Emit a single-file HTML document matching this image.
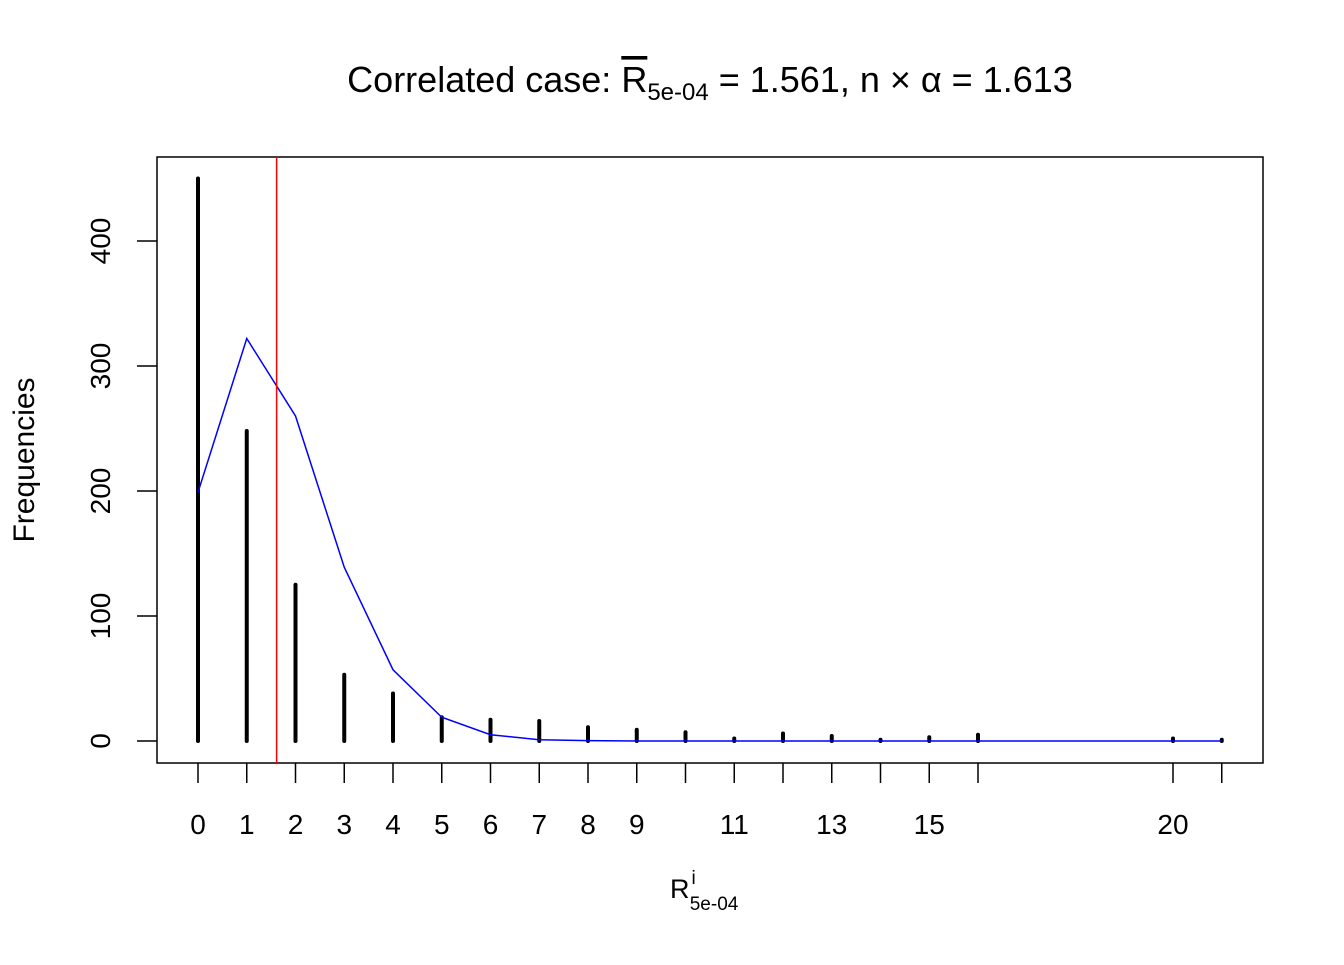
<!DOCTYPE html>
<html><head><meta charset="utf-8"><style>
body{margin:0;background:#fff;}
text{font-family:"Liberation Sans",Arial,sans-serif;fill:#000;}
</style></head><body>
<svg id="chart" width="1344" height="960" xmlns="http://www.w3.org/2000/svg">
<rect width="1344" height="960" fill="#fff"/>
<text x="710" y="92" font-size="36" text-anchor="middle">Correlated case: <tspan text-decoration="overline">R</tspan><tspan font-size="24" dy="8">5e-04</tspan><tspan dy="-8"> = 1.561, n × α = 1.613</tspan></text>
<rect x="157" y="157" width="1106" height="606" fill="none" stroke="#000" stroke-width="1.5"/>
<g id="marks"></g>
<text transform="translate(34,460) rotate(-90)" font-size="30" text-anchor="middle">Frequencies</text>
<text x="670" y="898" font-size="27">R<tspan font-size="19" dx="2" dy="-14">i</tspan><tspan font-size="19" dx="-6" dy="26">5e-04</tspan></text>
</svg>
<script>
const xs=[0,1,2,3,4,5,6,7,8,9,10,11,12,13,14,15,16,20,21];
const freqs=[450,248,125,53,38,19,17,16,11,9,7,2,6,4,1,3,5,2,1];
const fitX=[0,1,2,3,4,5,6,7,8,9,10,11,12,13,14,15,16,17,18,19,20,21];
const fitY=[199,322,260,139,57,19,5,1,0.3,0,0,0,0,0,0,0,0,0,0,0,0,0];
const xTickLabels=[0,1,2,3,4,5,6,7,8,9,11,13,15,20];
const yTicks=[0,100,200,300,400];
const meanLine=1.613;
const X=v=>198+v*48.75, Y=v=>741-v*1.25;
const NS='http://www.w3.org/2000/svg', g=document.getElementById('marks');
function mk(t,a){const e=document.createElementNS(NS,t);for(const k in a)e.setAttribute(k,a[k]);g.appendChild(e);return e;}
xs.forEach((x,i)=>{
 const b=mk('line',{x1:X(x),x2:X(x),y1:Y(0),y2:Y(freqs[i]),stroke:'#000','stroke-width':4,'stroke-linecap':'round'});
 
 
 const t=mk('line',{x1:X(x),x2:X(x),y1:763,y2:783,stroke:'#000','stroke-width':1.5});
 
 
});
xTickLabels.forEach(v=>{
 const t=mk('text',{x:X(v),y:834,'font-size':28,'text-anchor':'middle'});t.textContent=v;
 
 
});
yTicks.forEach(v=>{
 const l=mk('line',{x1:137,x2:157,y1:Y(v),y2:Y(v),stroke:'#000','stroke-width':1.5});
 
 
 const t=mk('text',{transform:`translate(110,${Y(v)}) rotate(-90)`,'font-size':28,'text-anchor':'middle'});t.textContent=v;
 
 
});
const p=mk('polyline',{points:fitX.map((x,i)=>X(x)+','+Y(fitY[i])).join(' '),fill:'none',stroke:'#0000ff','stroke-width':1.5});


const r=mk('line',{x1:X(meanLine),x2:X(meanLine),y1:157,y2:763,stroke:'#ff0000','stroke-width':1.5});


</script>
</body></html>
